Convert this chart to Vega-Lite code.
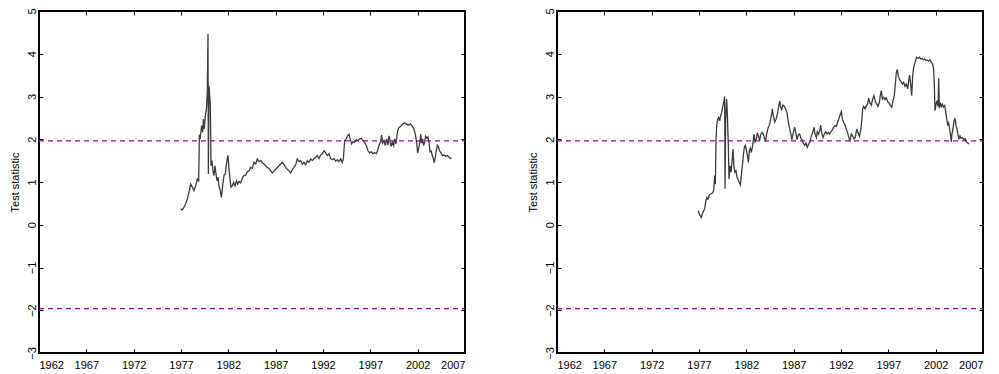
{
  "$schema": "https://vega.github.io/schema/vega-lite/v6.json",
  "background": "white",
  "padding": {"left": 8, "top": 6, "right": 14, "bottom": 5},
  "config": {
    "font": "Liberation Sans",
    "view": {"stroke": "black", "strokeWidth": 2},
    "axis": {
      "grid": false,
      "domain": false,
      "tickColor": "black",
      "tickWidth": 1,
      "tickSize": -4,
      "labelColor": "black",
      "labelFontSize": 11,
      "titleColor": "black",
      "titleFontSize": 11,
      "titleFontWeight": "normal"
    }
  },
  "datasets": {
    "crit": [{"crit": 1.96}, {"crit": -1.96}],
    "panelA": [
      {"t": 1976.96, "stat": 0.37}, {"t": 1977.14, "stat": 0.35}, {"t": 1977.32, "stat": 0.41}, {"t": 1977.49, "stat": 0.49},
      {"t": 1977.67, "stat": 0.60}, {"t": 1977.84, "stat": 0.76}, {"t": 1978.02, "stat": 0.95}, {"t": 1978.20, "stat": 0.88},
      {"t": 1978.37, "stat": 0.80}, {"t": 1978.55, "stat": 0.91}, {"t": 1978.73, "stat": 1.07}, {"t": 1978.87, "stat": 1.03},
      {"t": 1978.94, "stat": 2.08}, {"t": 1979.04, "stat": 2.04}, {"t": 1979.18, "stat": 2.32}, {"t": 1979.29, "stat": 2.16},
      {"t": 1979.36, "stat": 2.47}, {"t": 1979.46, "stat": 2.24}, {"t": 1979.57, "stat": 2.55}, {"t": 1979.68, "stat": 2.71},
      {"t": 1979.78, "stat": 3.10}, {"t": 1979.85, "stat": 4.46}, {"t": 1979.89, "stat": 1.19}, {"t": 1979.96, "stat": 3.25},
      {"t": 1980.03, "stat": 3.02}, {"t": 1980.10, "stat": 2.79}, {"t": 1980.17, "stat": 1.38}, {"t": 1980.27, "stat": 1.50},
      {"t": 1980.38, "stat": 1.26}, {"t": 1980.49, "stat": 1.15}, {"t": 1980.59, "stat": 1.38}, {"t": 1980.70, "stat": 1.19},
      {"t": 1980.80, "stat": 1.03}, {"t": 1980.91, "stat": 1.11}, {"t": 1981.01, "stat": 0.91}, {"t": 1981.15, "stat": 0.80},
      {"t": 1981.26, "stat": 0.64}, {"t": 1981.40, "stat": 0.91}, {"t": 1981.54, "stat": 1.15}, {"t": 1981.68, "stat": 1.19},
      {"t": 1981.82, "stat": 1.46}, {"t": 1981.96, "stat": 1.62}, {"t": 1982.07, "stat": 1.30}, {"t": 1982.18, "stat": 1.07},
      {"t": 1982.28, "stat": 0.88}, {"t": 1982.42, "stat": 0.91}, {"t": 1982.56, "stat": 0.99}, {"t": 1982.70, "stat": 0.91},
      {"t": 1982.85, "stat": 1.03}, {"t": 1982.99, "stat": 0.95}, {"t": 1983.13, "stat": 1.01}, {"t": 1983.30, "stat": 0.98},
      {"t": 1983.48, "stat": 1.09}, {"t": 1983.65, "stat": 1.15}, {"t": 1983.83, "stat": 1.16}, {"t": 1984.01, "stat": 1.24},
      {"t": 1984.18, "stat": 1.26}, {"t": 1984.36, "stat": 1.34}, {"t": 1984.53, "stat": 1.32}, {"t": 1984.71, "stat": 1.46},
      {"t": 1984.89, "stat": 1.42}, {"t": 1985.06, "stat": 1.54}, {"t": 1985.24, "stat": 1.48}, {"t": 1985.42, "stat": 1.50},
      {"t": 1985.59, "stat": 1.45}, {"t": 1985.77, "stat": 1.42}, {"t": 1985.94, "stat": 1.38}, {"t": 1986.12, "stat": 1.34},
      {"t": 1986.30, "stat": 1.32}, {"t": 1986.47, "stat": 1.26}, {"t": 1986.65, "stat": 1.21}, {"t": 1986.82, "stat": 1.26},
      {"t": 1987.00, "stat": 1.30}, {"t": 1987.18, "stat": 1.34}, {"t": 1987.35, "stat": 1.38}, {"t": 1987.53, "stat": 1.42},
      {"t": 1987.70, "stat": 1.46}, {"t": 1987.88, "stat": 1.41}, {"t": 1988.06, "stat": 1.34}, {"t": 1988.23, "stat": 1.30},
      {"t": 1988.41, "stat": 1.26}, {"t": 1988.59, "stat": 1.21}, {"t": 1988.76, "stat": 1.29}, {"t": 1988.94, "stat": 1.34},
      {"t": 1989.11, "stat": 1.40}, {"t": 1989.29, "stat": 1.54}, {"t": 1989.46, "stat": 1.48}, {"t": 1989.64, "stat": 1.50},
      {"t": 1989.82, "stat": 1.42}, {"t": 1989.99, "stat": 1.46}, {"t": 1990.17, "stat": 1.40}, {"t": 1990.34, "stat": 1.50},
      {"t": 1990.52, "stat": 1.46}, {"t": 1990.70, "stat": 1.54}, {"t": 1990.87, "stat": 1.50}, {"t": 1991.05, "stat": 1.55},
      {"t": 1991.23, "stat": 1.58}, {"t": 1991.40, "stat": 1.62}, {"t": 1991.58, "stat": 1.55}, {"t": 1991.75, "stat": 1.63},
      {"t": 1991.93, "stat": 1.66}, {"t": 1992.11, "stat": 1.73}, {"t": 1992.28, "stat": 1.68}, {"t": 1992.46, "stat": 1.62},
      {"t": 1992.63, "stat": 1.66}, {"t": 1992.81, "stat": 1.55}, {"t": 1992.99, "stat": 1.52}, {"t": 1993.16, "stat": 1.55},
      {"t": 1993.34, "stat": 1.49}, {"t": 1993.51, "stat": 1.52}, {"t": 1993.69, "stat": 1.48}, {"t": 1993.87, "stat": 1.54},
      {"t": 1994.04, "stat": 1.46}, {"t": 1994.15, "stat": 1.54}, {"t": 1994.29, "stat": 1.97}, {"t": 1994.46, "stat": 2.01},
      {"t": 1994.61, "stat": 2.08}, {"t": 1994.75, "stat": 2.12}, {"t": 1994.89, "stat": 1.99}, {"t": 1995.03, "stat": 1.89},
      {"t": 1995.17, "stat": 1.94}, {"t": 1995.34, "stat": 1.93}, {"t": 1995.52, "stat": 1.99}, {"t": 1995.70, "stat": 1.97},
      {"t": 1995.87, "stat": 2.01}, {"t": 1996.05, "stat": 2.02}, {"t": 1996.23, "stat": 1.97}, {"t": 1996.40, "stat": 1.93},
      {"t": 1996.58, "stat": 1.85}, {"t": 1996.75, "stat": 1.73}, {"t": 1996.93, "stat": 1.68}, {"t": 1997.11, "stat": 1.71},
      {"t": 1997.28, "stat": 1.66}, {"t": 1997.46, "stat": 1.69}, {"t": 1997.63, "stat": 1.66}, {"t": 1997.77, "stat": 1.73},
      {"t": 1997.92, "stat": 1.86}, {"t": 1998.06, "stat": 1.93}, {"t": 1998.20, "stat": 2.10}, {"t": 1998.30, "stat": 1.91},
      {"t": 1998.44, "stat": 1.97}, {"t": 1998.58, "stat": 1.85}, {"t": 1998.73, "stat": 2.01}, {"t": 1998.87, "stat": 1.86},
      {"t": 1998.97, "stat": 2.08}, {"t": 1999.08, "stat": 1.97}, {"t": 1999.18, "stat": 1.83}, {"t": 1999.32, "stat": 1.93},
      {"t": 1999.46, "stat": 1.85}, {"t": 1999.57, "stat": 2.01}, {"t": 1999.71, "stat": 1.89}, {"t": 1999.85, "stat": 2.16},
      {"t": 1999.99, "stat": 2.26}, {"t": 2000.17, "stat": 2.30}, {"t": 2000.38, "stat": 2.35}, {"t": 2000.59, "stat": 2.38},
      {"t": 2000.80, "stat": 2.36}, {"t": 2001.01, "stat": 2.33}, {"t": 2001.23, "stat": 2.36}, {"t": 2001.44, "stat": 2.30},
      {"t": 2001.61, "stat": 2.24}, {"t": 2001.75, "stat": 2.12}, {"t": 2001.89, "stat": 1.93}, {"t": 2002.00, "stat": 1.68},
      {"t": 2002.11, "stat": 1.79}, {"t": 2002.21, "stat": 1.89}, {"t": 2002.32, "stat": 2.12}, {"t": 2002.42, "stat": 1.91},
      {"t": 2002.53, "stat": 2.01}, {"t": 2002.63, "stat": 1.85}, {"t": 2002.74, "stat": 1.94}, {"t": 2002.84, "stat": 2.07},
      {"t": 2002.99, "stat": 2.02}, {"t": 2003.09, "stat": 2.05}, {"t": 2003.20, "stat": 1.93}, {"t": 2003.30, "stat": 1.71},
      {"t": 2003.41, "stat": 1.73}, {"t": 2003.55, "stat": 1.62}, {"t": 2003.66, "stat": 1.54}, {"t": 2003.76, "stat": 1.45},
      {"t": 2003.87, "stat": 1.60}, {"t": 2003.97, "stat": 1.73}, {"t": 2004.08, "stat": 1.86}, {"t": 2004.18, "stat": 1.83},
      {"t": 2004.32, "stat": 1.73}, {"t": 2004.46, "stat": 1.68}, {"t": 2004.61, "stat": 1.62}, {"t": 2004.78, "stat": 1.63},
      {"t": 2004.96, "stat": 1.60}, {"t": 2005.13, "stat": 1.62}, {"t": 2005.31, "stat": 1.58}, {"t": 2005.49, "stat": 1.55},
      {"t": 2005.56, "stat": 1.57}
    ],
    "panelB": [
      {"t": 1976.89, "stat": 0.33}, {"t": 1977.00, "stat": 0.28}, {"t": 1977.11, "stat": 0.21}, {"t": 1977.25, "stat": 0.17},
      {"t": 1977.35, "stat": 0.25}, {"t": 1977.46, "stat": 0.31}, {"t": 1977.60, "stat": 0.37}, {"t": 1977.71, "stat": 0.54},
      {"t": 1977.81, "stat": 0.64}, {"t": 1977.95, "stat": 0.60}, {"t": 1978.09, "stat": 0.70}, {"t": 1978.23, "stat": 0.72},
      {"t": 1978.41, "stat": 0.74}, {"t": 1978.55, "stat": 0.80}, {"t": 1978.66, "stat": 1.15}, {"t": 1978.73, "stat": 0.95},
      {"t": 1978.80, "stat": 2.01}, {"t": 1978.87, "stat": 2.32}, {"t": 1978.97, "stat": 2.47}, {"t": 1979.08, "stat": 2.51},
      {"t": 1979.18, "stat": 2.43}, {"t": 1979.29, "stat": 2.55}, {"t": 1979.40, "stat": 2.63}, {"t": 1979.50, "stat": 2.75},
      {"t": 1979.61, "stat": 2.86}, {"t": 1979.71, "stat": 3.00}, {"t": 1979.75, "stat": 0.84}, {"t": 1979.82, "stat": 2.47},
      {"t": 1979.92, "stat": 2.94}, {"t": 1979.99, "stat": 2.63}, {"t": 1980.10, "stat": 1.85}, {"t": 1980.17, "stat": 1.07},
      {"t": 1980.28, "stat": 1.38}, {"t": 1980.38, "stat": 1.23}, {"t": 1980.49, "stat": 1.46}, {"t": 1980.59, "stat": 1.77},
      {"t": 1980.70, "stat": 1.34}, {"t": 1980.80, "stat": 1.23}, {"t": 1980.91, "stat": 1.26}, {"t": 1981.01, "stat": 1.11},
      {"t": 1981.12, "stat": 1.07}, {"t": 1981.26, "stat": 0.98}, {"t": 1981.37, "stat": 0.93}, {"t": 1981.47, "stat": 1.15},
      {"t": 1981.58, "stat": 1.38}, {"t": 1981.68, "stat": 1.62}, {"t": 1981.79, "stat": 1.81}, {"t": 1981.89, "stat": 1.86},
      {"t": 1982.00, "stat": 1.76}, {"t": 1982.11, "stat": 1.62}, {"t": 1982.21, "stat": 1.46}, {"t": 1982.32, "stat": 1.73},
      {"t": 1982.42, "stat": 1.79}, {"t": 1982.53, "stat": 1.69}, {"t": 1982.67, "stat": 1.86}, {"t": 1982.81, "stat": 2.12},
      {"t": 1982.92, "stat": 1.94}, {"t": 1983.06, "stat": 2.01}, {"t": 1983.16, "stat": 2.15}, {"t": 1983.27, "stat": 2.08},
      {"t": 1983.41, "stat": 1.97}, {"t": 1983.51, "stat": 2.10}, {"t": 1983.66, "stat": 2.16}, {"t": 1983.80, "stat": 2.12},
      {"t": 1983.94, "stat": 2.01}, {"t": 1984.04, "stat": 1.97}, {"t": 1984.15, "stat": 2.12}, {"t": 1984.29, "stat": 2.26},
      {"t": 1984.43, "stat": 2.33}, {"t": 1984.57, "stat": 2.47}, {"t": 1984.68, "stat": 2.59}, {"t": 1984.75, "stat": 2.71},
      {"t": 1984.85, "stat": 2.55}, {"t": 1984.99, "stat": 2.40}, {"t": 1985.13, "stat": 2.47}, {"t": 1985.28, "stat": 2.59},
      {"t": 1985.42, "stat": 2.77}, {"t": 1985.52, "stat": 2.90}, {"t": 1985.63, "stat": 2.75}, {"t": 1985.73, "stat": 2.69},
      {"t": 1985.87, "stat": 2.80}, {"t": 1986.01, "stat": 2.77}, {"t": 1986.16, "stat": 2.71}, {"t": 1986.30, "stat": 2.61},
      {"t": 1986.44, "stat": 2.40}, {"t": 1986.58, "stat": 2.24}, {"t": 1986.72, "stat": 2.10}, {"t": 1986.82, "stat": 1.99},
      {"t": 1986.97, "stat": 2.16}, {"t": 1987.11, "stat": 2.28}, {"t": 1987.25, "stat": 2.12}, {"t": 1987.35, "stat": 1.99},
      {"t": 1987.49, "stat": 2.10}, {"t": 1987.63, "stat": 2.12}, {"t": 1987.77, "stat": 2.02}, {"t": 1987.88, "stat": 1.99},
      {"t": 1988.02, "stat": 1.91}, {"t": 1988.16, "stat": 1.86}, {"t": 1988.30, "stat": 1.91}, {"t": 1988.44, "stat": 1.81},
      {"t": 1988.58, "stat": 1.89}, {"t": 1988.73, "stat": 1.94}, {"t": 1988.87, "stat": 2.08}, {"t": 1989.01, "stat": 2.16},
      {"t": 1989.15, "stat": 2.28}, {"t": 1989.25, "stat": 2.12}, {"t": 1989.40, "stat": 2.04}, {"t": 1989.50, "stat": 2.18},
      {"t": 1989.61, "stat": 2.12}, {"t": 1989.75, "stat": 2.20}, {"t": 1989.85, "stat": 2.33}, {"t": 1989.96, "stat": 2.16},
      {"t": 1990.10, "stat": 2.04}, {"t": 1990.24, "stat": 2.12}, {"t": 1990.38, "stat": 2.18}, {"t": 1990.52, "stat": 2.12},
      {"t": 1990.66, "stat": 2.16}, {"t": 1990.80, "stat": 2.12}, {"t": 1990.94, "stat": 2.18}, {"t": 1991.08, "stat": 2.22},
      {"t": 1991.23, "stat": 2.28}, {"t": 1991.37, "stat": 2.32}, {"t": 1991.51, "stat": 2.30}, {"t": 1991.65, "stat": 2.40},
      {"t": 1991.79, "stat": 2.49}, {"t": 1991.93, "stat": 2.59}, {"t": 1992.04, "stat": 2.65}, {"t": 1992.14, "stat": 2.47},
      {"t": 1992.28, "stat": 2.40}, {"t": 1992.42, "stat": 2.33}, {"t": 1992.56, "stat": 2.24}, {"t": 1992.70, "stat": 2.15},
      {"t": 1992.85, "stat": 2.02}, {"t": 1992.95, "stat": 1.97}, {"t": 1993.09, "stat": 2.12}, {"t": 1993.23, "stat": 2.08},
      {"t": 1993.37, "stat": 2.01}, {"t": 1993.51, "stat": 2.04}, {"t": 1993.66, "stat": 2.24}, {"t": 1993.80, "stat": 2.15},
      {"t": 1993.94, "stat": 2.07}, {"t": 1994.08, "stat": 2.20}, {"t": 1994.18, "stat": 2.40}, {"t": 1994.29, "stat": 2.71},
      {"t": 1994.39, "stat": 2.77}, {"t": 1994.54, "stat": 2.71}, {"t": 1994.68, "stat": 2.79}, {"t": 1994.82, "stat": 2.82},
      {"t": 1994.92, "stat": 2.96}, {"t": 1995.06, "stat": 2.85}, {"t": 1995.20, "stat": 2.80}, {"t": 1995.35, "stat": 2.94},
      {"t": 1995.49, "stat": 3.02}, {"t": 1995.63, "stat": 2.88}, {"t": 1995.77, "stat": 2.82}, {"t": 1995.91, "stat": 2.77},
      {"t": 1996.05, "stat": 2.86}, {"t": 1996.16, "stat": 3.03}, {"t": 1996.26, "stat": 3.14}, {"t": 1996.37, "stat": 2.94},
      {"t": 1996.51, "stat": 2.98}, {"t": 1996.65, "stat": 2.93}, {"t": 1996.79, "stat": 2.97}, {"t": 1996.93, "stat": 2.88},
      {"t": 1997.07, "stat": 2.85}, {"t": 1997.21, "stat": 2.79}, {"t": 1997.35, "stat": 2.75}, {"t": 1997.49, "stat": 2.90},
      {"t": 1997.63, "stat": 3.02}, {"t": 1997.74, "stat": 3.29}, {"t": 1997.84, "stat": 3.56}, {"t": 1997.95, "stat": 3.63},
      {"t": 1998.06, "stat": 3.47}, {"t": 1998.20, "stat": 3.39}, {"t": 1998.34, "stat": 3.35}, {"t": 1998.48, "stat": 3.29},
      {"t": 1998.62, "stat": 3.33}, {"t": 1998.76, "stat": 3.24}, {"t": 1998.90, "stat": 3.29}, {"t": 1999.04, "stat": 3.18},
      {"t": 1999.15, "stat": 3.37}, {"t": 1999.25, "stat": 3.50}, {"t": 1999.36, "stat": 3.29}, {"t": 1999.47, "stat": 3.02},
      {"t": 1999.57, "stat": 3.47}, {"t": 1999.68, "stat": 3.68}, {"t": 1999.78, "stat": 3.78}, {"t": 1999.89, "stat": 3.84},
      {"t": 1999.99, "stat": 3.92}, {"t": 2000.14, "stat": 3.89}, {"t": 2000.28, "stat": 3.92}, {"t": 2000.42, "stat": 3.88},
      {"t": 2000.56, "stat": 3.89}, {"t": 2000.70, "stat": 3.86}, {"t": 2000.84, "stat": 3.88}, {"t": 2000.98, "stat": 3.84},
      {"t": 2001.12, "stat": 3.85}, {"t": 2001.26, "stat": 3.83}, {"t": 2001.40, "stat": 3.86}, {"t": 2001.54, "stat": 3.80},
      {"t": 2001.68, "stat": 3.76}, {"t": 2001.79, "stat": 3.64}, {"t": 2001.86, "stat": 3.25}, {"t": 2001.93, "stat": 2.67},
      {"t": 2002.04, "stat": 2.82}, {"t": 2002.14, "stat": 2.90}, {"t": 2002.25, "stat": 2.77}, {"t": 2002.32, "stat": 3.42},
      {"t": 2002.39, "stat": 2.72}, {"t": 2002.49, "stat": 2.86}, {"t": 2002.60, "stat": 2.77}, {"t": 2002.71, "stat": 2.82},
      {"t": 2002.81, "stat": 2.75}, {"t": 2002.95, "stat": 2.79}, {"t": 2003.06, "stat": 2.65}, {"t": 2003.16, "stat": 2.49},
      {"t": 2003.27, "stat": 2.32}, {"t": 2003.37, "stat": 2.38}, {"t": 2003.48, "stat": 2.24}, {"t": 2003.58, "stat": 2.08},
      {"t": 2003.65, "stat": 1.94}, {"t": 2003.72, "stat": 2.12}, {"t": 2003.83, "stat": 2.24}, {"t": 2003.94, "stat": 2.43},
      {"t": 2004.04, "stat": 2.49}, {"t": 2004.15, "stat": 2.33}, {"t": 2004.25, "stat": 2.24}, {"t": 2004.36, "stat": 2.10},
      {"t": 2004.46, "stat": 2.01}, {"t": 2004.57, "stat": 2.08}, {"t": 2004.68, "stat": 2.02}, {"t": 2004.82, "stat": 2.04},
      {"t": 2004.96, "stat": 1.99}, {"t": 2005.10, "stat": 2.02}, {"t": 2005.24, "stat": 1.94}, {"t": 2005.38, "stat": 1.91},
      {"t": 2005.52, "stat": 1.89}
    ]
  },
  "spacing": 59,
  "hconcat": [
    {
      "width": 426,
      "height": 342,
      "resolve": {"axis": {"x": "independent", "y": "independent"}},
      "layer": [
        {
          "data": {"name": "panelA"},
          "mark": {"type": "line", "color": "#3c3c3c", "strokeWidth": 1.3},
          "encoding": {
            "x": {"field": "t", "type": "quantitative",
                  "scale": {"domain": [1962, 2007], "nice": false, "zero": false},
                  "axis": {"orient": "bottom", "title": null, "format": "d", "labelPadding": 10,
                           "values": [1962, 1967, 1972, 1977, 1982, 1987, 1992, 1997, 2002, 2007]}},
            "y": {"field": "stat", "type": "quantitative",
                  "scale": {"domain": [-3, 5], "nice": false, "zero": false},
                  "axis": {"orient": "left", "title": "Test statistic", "values": [-3, -2, -1, 0, 1, 2, 3, 4, 5],
                           "labelAngle": -90, "labelAlign": "center", "labelBaseline": "bottom",
                           "labelPadding": 6, "titlePadding": 6}}
          }
        },
        {
          "data": {"name": "crit"},
          "mark": {"type": "rule", "color": "#a000a0", "strokeWidth": 1.2, "strokeDash": [5, 4]},
          "encoding": {
            "x": {"datum": 1962, "type": "quantitative",
                  "axis": {"orient": "top", "title": null, "labels": false,
                           "values": [1962, 1967, 1972, 1977, 1982, 1987, 1992, 1997, 2002, 2007]}},
            "x2": {"datum": 2007},
            "y": {"field": "crit", "type": "quantitative",
                  "axis": {"orient": "right", "title": null, "labels": false, "values": [-3, -2, -1, 0, 1, 2, 3, 4, 5]}}
          }
        }
      ]
    },
    {
      "width": 426,
      "height": 342,
      "resolve": {"axis": {"x": "independent", "y": "independent"}},
      "layer": [
        {
          "data": {"name": "panelB"},
          "mark": {"type": "line", "color": "#3c3c3c", "strokeWidth": 1.3},
          "encoding": {
            "x": {"field": "t", "type": "quantitative",
                  "scale": {"domain": [1962, 2007], "nice": false, "zero": false},
                  "axis": {"orient": "bottom", "title": null, "format": "d", "labelPadding": 10,
                           "values": [1962, 1967, 1972, 1977, 1982, 1987, 1992, 1997, 2002, 2007]}},
            "y": {"field": "stat", "type": "quantitative",
                  "scale": {"domain": [-3, 5], "nice": false, "zero": false},
                  "axis": {"orient": "left", "title": "Test statistic", "values": [-3, -2, -1, 0, 1, 2, 3, 4, 5],
                           "labelAngle": -90, "labelAlign": "center", "labelBaseline": "bottom",
                           "labelPadding": 6, "titlePadding": 6}}
          }
        },
        {
          "data": {"name": "crit"},
          "mark": {"type": "rule", "color": "#a000a0", "strokeWidth": 1.2, "strokeDash": [5, 4]},
          "encoding": {
            "x": {"datum": 1962, "type": "quantitative",
                  "axis": {"orient": "top", "title": null, "labels": false,
                           "values": [1962, 1967, 1972, 1977, 1982, 1987, 1992, 1997, 2002, 2007]}},
            "x2": {"datum": 2007},
            "y": {"field": "crit", "type": "quantitative",
                  "axis": {"orient": "right", "title": null, "labels": false, "values": [-3, -2, -1, 0, 1, 2, 3, 4, 5]}}
          }
        }
      ]
    }
  ]
}
